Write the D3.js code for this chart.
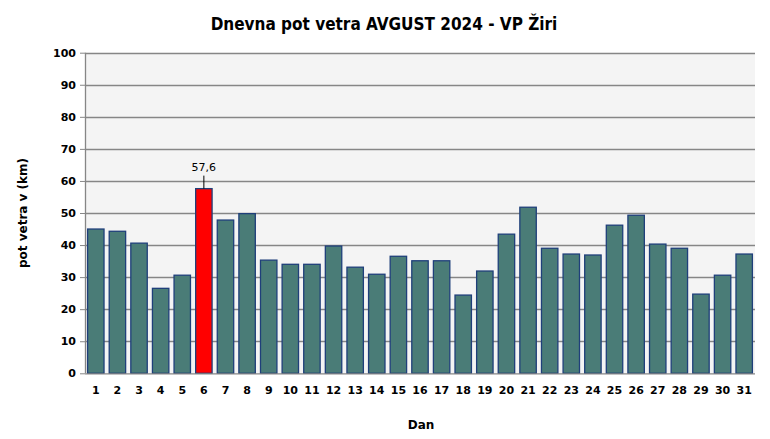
<!DOCTYPE html>
<html><head><meta charset="utf-8">
<script src="https://cdn.jsdelivr.net/npm/d3@7"></script>
<style>body{margin:0;background:#fff}svg{display:block}text{font-family:"DejaVu Sans",sans-serif;font-weight:bold}</style>
</head><body>
<script>
const days = d3.range(1, 32).map(String);
const values = [45.0,44.3,40.6,26.5,30.6,57.6,47.8,49.8,35.3,34.0,34.0,39.7,33.1,30.9,36.5,35.1,35.1,24.4,31.9,43.4,51.8,39.0,37.2,36.9,46.2,49.3,40.3,39.0,24.7,30.6,37.2];
const yTicks = [0,10,20,30,40,50,60,70,80,90,100];
const maxLabel = "57,6";

const W = 770, H = 439;
const m = {left:85, right:15, top:52.7, bottom:65.7};
const svg = d3.select("body").append("svg").attr("width", W).attr("height", H);
const x = d3.scaleBand().domain(days).range([m.left, W - m.right]).paddingInner(0.24).paddingOuter(0.12);
const y = d3.scaleLinear().domain([0,100]).range([H - m.bottom, m.top]);

svg.append("rect").attr("x", m.left).attr("y", y(100)).attr("width", W - m.right - m.left).attr("height", y(0) - y(100)).attr("fill", "#f4f4f4");

svg.append("g").selectAll("line").data(yTicks.filter(d => d > 0)).join("line")
  .attr("x1", m.left).attr("x2", W - m.right)
  .attr("y1", d => Math.round(y(d)) + 0.5).attr("y2", d => Math.round(y(d)) + 0.5)
  .attr("stroke", "#868686").attr("stroke-width", 1.3);

const maxV = d3.max(values);
svg.append("g").selectAll("rect").data(values).join("rect")
  .attr("x", (d,i) => x(days[i])).attr("width", x.bandwidth())
  .attr("y", d => y(d)).attr("height", d => y(0) - y(d))
  .attr("fill", d => d === maxV ? "#ff0000" : "#4a7c77")
  .attr("stroke", "#1f3f7a").attr("stroke-width", 1.3);

const iMax = values.indexOf(maxV);
const cx = x(days[iMax]) + x.bandwidth()/2;
svg.append("line").attr("x1", cx).attr("x2", cx).attr("y1", y(maxV)).attr("y2", y(maxV) - 13).attr("stroke", "#000");
svg.append("text").attr("x", cx).attr("y", y(maxV) - 18).attr("text-anchor", "middle").attr("font-size", 11).style("font-weight", "normal").text(maxLabel);

const ya = svg.append("g").attr("transform", `translate(${m.left},0)`)
  .call(d3.axisLeft(y).tickValues(yTicks).tickSize(5).tickPadding(4));
ya.select(".domain").attr("stroke", "#868686").attr("stroke-width", 1.3).attr("d", `M0.5,${y(100)}V${y(0)}`);
ya.selectAll(".tick line").attr("stroke", "#868686");
ya.selectAll("text").attr("font-size", 11).attr("font-family", "DejaVu Sans").attr("font-weight", "bold").attr("fill", "#000");

svg.append("line").attr("x1", m.left).attr("x2", W - m.right).attr("y1", y(0)+0.5).attr("y2", y(0)+0.5).attr("stroke", "#868686").attr("stroke-width", 1.3);

const xa = svg.append("g").attr("transform", `translate(0,${y(0)})`)
  .call(d3.axisBottom(x).tickSize(0).tickPadding(13));
xa.select(".domain").remove();
xa.selectAll("text").attr("font-size", 11).attr("font-family", "DejaVu Sans").attr("font-weight", "bold").attr("fill", "#000");

svg.append("text").attr("x", 384).attr("y", 30).attr("text-anchor", "middle").attr("font-size", 17)
  .style("font-family", "'DejaVu Sans Condensed','DejaVu Sans',sans-serif").text("Dnevna pot vetra AVGUST 2024 - VP Žiri");
svg.append("text").attr("x", 421).attr("y", 429).attr("text-anchor", "middle").attr("font-size", 12).text("Dan");
svg.append("text").attr("transform", "translate(27,213) rotate(-90)").attr("text-anchor", "middle").attr("font-size", 12).text("pot vetra  v (km)");
</script>
</body></html>
